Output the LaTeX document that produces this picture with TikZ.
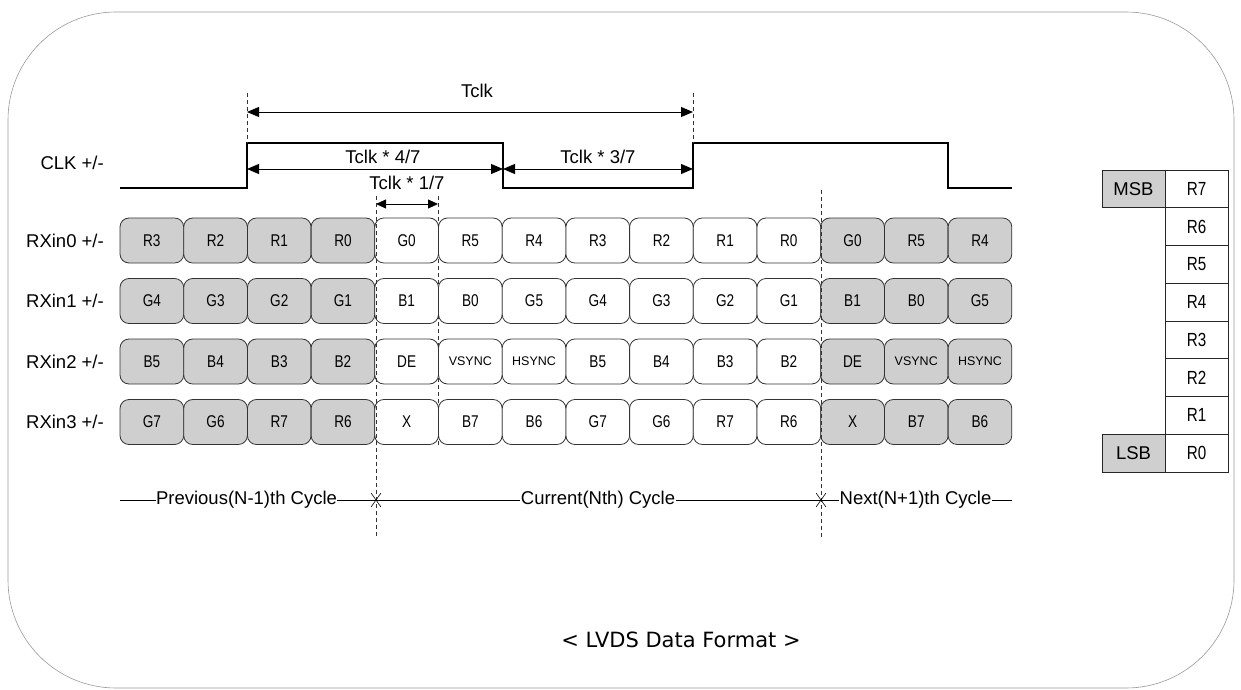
\documentclass[tikz,border=0pt]{standalone}
\usepackage{fontspec}
\setmainfont{Liberation Sans}
\newfontfamily\cellfont{Liberation Sans}[FakeStretch=0.8]
\newfontfamily\capfont{DejaVu Sans}
\newcommand\synfont{\normalfont\fontsize{12.5}{14}\selectfont}
\usetikzlibrary{arrows.meta,shapes.misc}
\colorlet{g}{black!19}
\colorlet{w}{white}
\begin{document}
\begin{tikzpicture}[x=1pt,y=-1pt,
  cell/.style={draw=black!80, line width=0.8pt, rounded corners=9pt,
    minimum width=63.7pt, minimum height=45pt, inner sep=0pt,
    font=\cellfont\fontsize{17}{19}\selectfont},
  tcell/.style={draw=black!85, line width=0.8pt, minimum width=63pt,
    minimum height=37.75pt, inner sep=0pt, font=\cellfont\fontsize{19}{21}\selectfont},
  lab/.style={font=\fontsize{18.5}{20}\selectfont, inner sep=0pt},
  sig/.style={line width=1.4pt, line join=miter},
  dimarrow/.style={line width=0.8pt,
    {Triangle[length=12pt,width=10pt]}-{Triangle[length=12pt,width=10pt]}},
  guide/.style={line width=0.7pt, dash pattern=on 4pt off 3pt, black!80},
  xmark/.style={draw, cross out, line width=0.6pt, minimum width=9pt,
    minimum height=13pt, inner sep=0pt},
  cyclab/.style={lab, fill=white, inner xsep=0.5pt, inner ysep=1pt}]
\useasboundingbox (0,0) rectangle (1241,690);
% outer frame
\draw[black!40, line width=0.6pt, rounded corners=108pt] (8,12) rectangle (1234,688);

% clock
\node[lab, anchor=east] (clk) at (104,163) {CLK +/-};
\coordinate (k0) at (120,188);
\coordinate (k1) at (247,188);
\coordinate (k2) at (247,143);
\coordinate (k3) at (503,143);
\coordinate (k4) at (503,188);
\coordinate (k5) at (693,188);
\coordinate (k6) at (693,143);
\coordinate (k7) at (948,143);
\coordinate (k8) at (948,188);
\coordinate (k9) at (1012,188);
\draw[sig] (k0) -- (k1) -- (k2) -- (k3) -- (k4) -- (k5) -- (k6) -- (k7) -- (k8) -- (k9);

% guides
\coordinate (ga) at (247,93);
\coordinate (gb) at (693,93);
\coordinate (gc1) at (376,196);
\coordinate (gc2) at (376,537);
\coordinate (gd1) at (438,196);
\coordinate (gd2) at (438,445);
\coordinate (ge1) at (821,190);
\coordinate (ge2) at (821,537);
\draw[guide] (ga) -- (k2);
\draw[guide] (gb) -- (k6);

% dimension arrows
\coordinate (t1a) at (247,112);
\coordinate (t1b) at (693,112);
\coordinate (t4a) at (247,169);
\coordinate (t4b) at (503,169);
\coordinate (t3a) at (503,169);
\coordinate (t3b) at (693,169);
\coordinate (t7a) at (376,204);
\coordinate (t7b) at (438,204);
\draw[dimarrow] (t1a) -- (t1b);
\draw[dimarrow] (t4a) -- (t4b);
\draw[dimarrow] (t3a) -- (t3b);
\draw[dimarrow, {Triangle[length=10pt,width=9pt]}-{Triangle[length=10pt,width=9pt]}] (t7a) -- (t7b);
\node[lab] (tclk) at (477,91) {Tclk};
\node[lab] (t47) at (383,157) {Tclk * 4/7};
\node[lab] (t37) at (598,157) {Tclk * 3/7};
\node[lab] (t17) at (407,183) {Tclk * 1/7};

% row labels
\node[lab, anchor=east] (rx0) at (104,240.5) {RXin0 +/-};
\node[lab, anchor=east] (rx1) at (104,301) {RXin1 +/-};
\node[lab, anchor=east] (rx2) at (104,361.5) {RXin2 +/-};
\node[lab, anchor=east] (rx3) at (104,422) {RXin3 +/-};

% data cells
\foreach \f/\t [count=\i from 0] in {g/R3,g/R2,g/R1,g/R0,w/G0,w/R5,w/R4,w/R3,w/R2,w/R1,w/R0,g/G0,g/R5,g/R4}
  \node[cell, fill=\f] (a\i) at (151.85+63.7*\i,240.5) {\t};
\foreach \f/\t [count=\i from 0] in {g/G4,g/G3,g/G2,g/G1,w/B1,w/B0,w/G5,w/G4,w/G3,w/G2,w/G1,g/B1,g/B0,g/G5}
  \node[cell, fill=\f] (b\i) at (151.85+63.7*\i,301) {\t};
\foreach \f/\t [count=\i from 0] in {g/B5,g/B4,g/B3,g/B2,w/DE,w/{\synfont VSYNC},w/{\synfont HSYNC},w/B5,w/B4,w/B3,w/B2,g/DE,g/{\synfont VSYNC},g/{\synfont HSYNC}}
  \node[cell, fill=\f] (c\i) at (151.85+63.7*\i,361.5) {\t};
\foreach \f/\t [count=\i from 0] in {g/G7,g/G6,g/R7,g/R6,w/X,w/B7,w/B6,w/G7,w/G6,w/R7,w/R6,g/X,g/B7,g/B6}
  \node[cell, fill=\f] (d\i) at (151.85+63.7*\i,422) {\t};

\draw[guide] (gc1) -- (gc2);
\draw[guide] (gd1) -- (gd2);
\draw[guide] (ge1) -- (ge2);

% cycle line
\coordinate (cy0) at (120,500);
\coordinate (cy1) at (1012,500);
\draw[line width=0.7pt] (cy0) -- (cy1);
\node[xmark] (x1) at (376,500) {};
\node[xmark] (x2) at (821,500) {};
\node[cyclab] (prev) at (246.5,500) {Previous(N-1)th Cycle};
\node[cyclab] (curr) at (598,500) {Current(Nth) Cycle};
\node[cyclab] (next) at (915.5,500) {Next(N+1)th Cycle};

% bit table
\node[tcell, fill=g, font=\fontsize{18.5}{20}\selectfont] (msb) at (1133.5,188.9) {MSB};
\node[tcell, fill=g, font=\fontsize{18.5}{20}\selectfont] (lsb) at (1133.5,453.1) {LSB};
\foreach \t [count=\k from 0] in {R7,R6,R5,R4,R3,R2,R1,R0}
  \node[tcell] (bit\k) at (1196.5,188.9+37.75*\k) {\t};

% caption
\node[font=\capfont\fontsize{21}{24}\selectfont, inner sep=0pt] (cap) at (681,640) {< LVDS Data Format >};
\end{tikzpicture}
\end{document}
